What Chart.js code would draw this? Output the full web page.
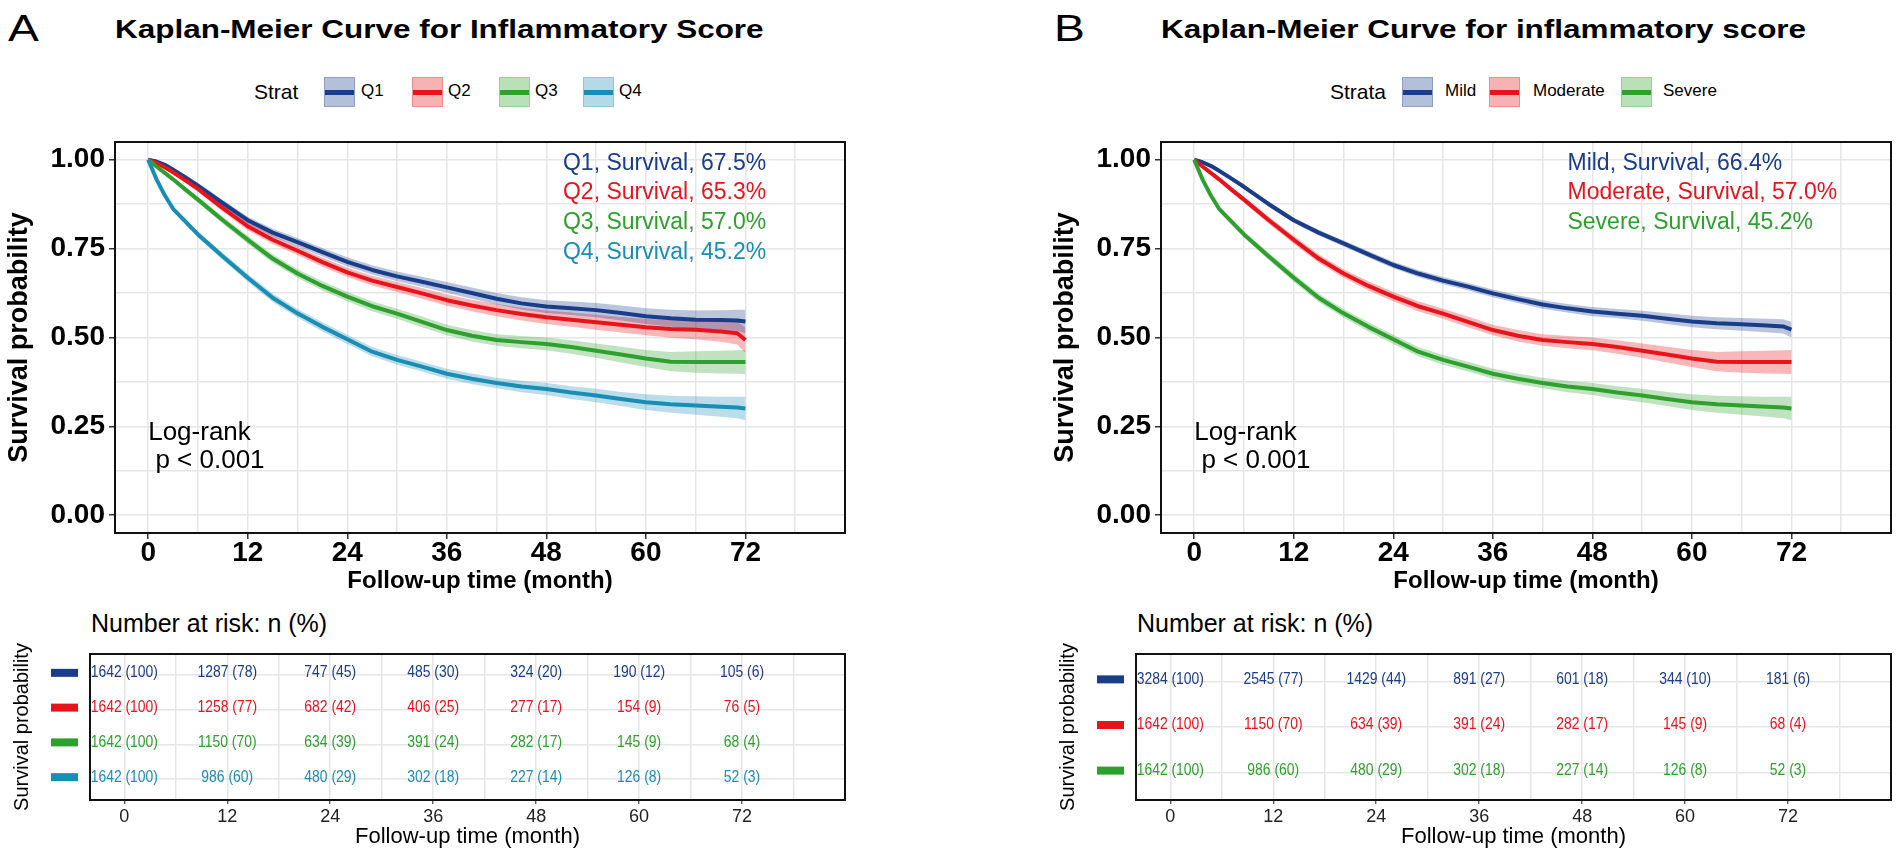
<!DOCTYPE html>
<html><head><meta charset="utf-8">
<script src="https://cdn.jsdelivr.net/npm/chart.js@4.4.0/dist/chart.umd.min.js"></script>
<style>
html,body{margin:0;padding:0;background:#fff;width:1900px;height:857px;overflow:hidden;font-family:"Liberation Sans",Arial,Helvetica,sans-serif;}
#root{position:relative;width:1900px;height:857px;}
.abs{position:absolute;white-space:nowrap;line-height:1;color:#000;}
canvas{position:absolute;}
</style></head><body>
<div id="root"></div>
<script>
// ---------------- DATA ----------------
const timeMonths = [0,1,2,3,4.5,6,9,12,15,18,21,24,27,30,33,36,39,42,45,48,51,54,57,60,63,66,69,71,72];

// Panel A: survival estimates
const survQ1 = [1.000,0.995,0.986,0.972,0.950,0.927,0.878,0.830,0.795,0.768,0.740,0.713,0.690,0.672,0.657,0.641,0.625,0.609,0.596,0.587,0.582,0.577,0.569,0.560,0.554,0.550,0.549,0.548,0.545];
const survQ2 = [1.000,0.991,0.979,0.965,0.942,0.918,0.864,0.813,0.775,0.744,0.712,0.683,0.660,0.642,0.624,0.605,0.590,0.577,0.566,0.557,0.550,0.543,0.536,0.529,0.524,0.522,0.517,0.512,0.493];
const survQ3 = [1.000,0.981,0.963,0.945,0.916,0.888,0.830,0.775,0.722,0.680,0.645,0.615,0.588,0.567,0.544,0.521,0.505,0.493,0.487,0.482,0.473,0.463,0.452,0.441,0.432,0.431,0.431,0.431,0.431];
const survQ4 = [1.000,0.945,0.900,0.862,0.826,0.790,0.728,0.668,0.612,0.568,0.530,0.495,0.460,0.437,0.418,0.398,0.384,0.372,0.362,0.355,0.345,0.337,0.327,0.318,0.312,0.309,0.305,0.303,0.300];
// half-width of the confidence bands
const ciQ1 = [0,0.004,0.005,0.006,0.007,0.008,0.009,0.010,0.011,0.012,0.012,0.013,0.013,0.014,0.014,0.015,0.016,0.016,0.017,0.018,0.019,0.020,0.021,0.022,0.024,0.026,0.028,0.030,0.033];
const ciQ2 = [0,0.004,0.005,0.006,0.007,0.008,0.010,0.011,0.012,0.012,0.013,0.013,0.014,0.014,0.015,0.016,0.016,0.017,0.018,0.019,0.020,0.021,0.022,0.023,0.025,0.027,0.029,0.032,0.036];
const ciQ3 = [0,0.004,0.005,0.006,0.007,0.008,0.010,0.011,0.012,0.012,0.013,0.013,0.014,0.014,0.015,0.015,0.016,0.016,0.017,0.018,0.019,0.020,0.022,0.024,0.027,0.030,0.032,0.033,0.034];
const ciQ4 = [0,0.005,0.006,0.007,0.008,0.009,0.010,0.011,0.012,0.012,0.013,0.013,0.013,0.014,0.014,0.014,0.015,0.015,0.016,0.017,0.018,0.019,0.020,0.022,0.024,0.026,0.028,0.030,0.033];

// Panel B
const survMild     = [1.000,0.993,0.983,0.969,0.947,0.924,0.875,0.830,0.795,0.765,0.734,0.704,0.680,0.660,0.643,0.624,0.608,0.593,0.582,0.573,0.567,0.561,0.553,0.545,0.540,0.537,0.534,0.531,0.522];
const survModerate = [1.000,0.981,0.963,0.945,0.916,0.888,0.830,0.775,0.722,0.680,0.645,0.615,0.588,0.567,0.544,0.521,0.505,0.493,0.487,0.482,0.473,0.463,0.452,0.441,0.432,0.431,0.431,0.431,0.431];
const survSevere   = [1.000,0.945,0.900,0.862,0.826,0.790,0.728,0.668,0.612,0.568,0.530,0.495,0.460,0.437,0.418,0.398,0.384,0.372,0.362,0.355,0.345,0.337,0.327,0.318,0.312,0.309,0.305,0.303,0.300];
const ciMild     = [0,0.003,0.003,0.004,0.005,0.006,0.007,0.007,0.008,0.008,0.009,0.009,0.010,0.010,0.010,0.011,0.011,0.012,0.012,0.013,0.013,0.014,0.015,0.016,0.017,0.018,0.019,0.020,0.022];
const ciModerate = [0,0.004,0.005,0.006,0.007,0.008,0.010,0.011,0.012,0.012,0.013,0.013,0.014,0.014,0.015,0.015,0.016,0.016,0.017,0.018,0.019,0.020,0.022,0.024,0.027,0.030,0.032,0.033,0.034];
const ciSevere   = [0,0.005,0.006,0.007,0.008,0.009,0.010,0.011,0.012,0.012,0.013,0.013,0.013,0.014,0.014,0.014,0.015,0.015,0.016,0.017,0.018,0.019,0.020,0.022,0.024,0.026,0.028,0.030,0.033];

// Survival text labels
const finalA = ['67.5%','65.3%','57.0%','45.2%'];
const finalB = ['66.4%','57.0%','45.2%'];

// Number at risk table
const riskTimes = [0,12,24,36,48,60,72];
const riskQ1N = [1642,1287,747,485,324,190,105];   const riskQ1P = [100,78,45,30,20,12,6];
const riskQ2N = [1642,1258,682,406,277,154,76];    const riskQ2P = [100,77,42,25,17,9,5];
const riskQ3N = [1642,1150,634,391,282,145,68];    const riskQ3P = [100,70,39,24,17,9,4];
const riskQ4N = [1642,986,480,302,227,126,52];     const riskQ4P = [100,60,29,18,14,8,3];
const riskMildN = [3284,2545,1429,891,601,344,181]; const riskMildP = [100,77,44,27,18,10,6];
const riskModN  = [1642,1150,634,391,282,145,68];   const riskModP  = [100,70,39,24,17,9,4];
const riskSevN  = [1642,986,480,302,227,126,52];    const riskSevP  = [100,60,29,18,14,8,3];

// Axis ticks
const xTickLabels = [0,12,24,36,48,60,72];
const xGrid = [0,6,12,18,24,30,36,42,48,54,60,66,72,78,84];
const yTickLabels = [0,0.25,0.5,0.75,1];
const yGrid = [0,0.125,0.25,0.375,0.5,0.625,0.75,0.875,1];

// ---------------- STYLE ----------------
const FONT = '"Liberation Sans", Arial, Helvetica, sans-serif';
const NAVY = '#1a3d8a', RED = '#e8141c', GREEN = '#2ea02e', TEAL = '#1a8db5';
Chart.defaults.font.family = FONT;
Chart.defaults.animation = false;
const GRIDC = '#e6e6e6';

function rgba(hex, a){const h=hex.replace('#','');return `rgba(${parseInt(h.slice(0,2),16)},${parseInt(h.slice(2,4),16)},${parseInt(h.slice(4,6),16)},${a})`;}
const root = document.getElementById('root');
function addDiv(text, left, top, css){const d=document.createElement('div');d.className='abs';d.textContent=text;d.style.left=left+'px';d.style.top=top+'px';Object.assign(d.style, css||{});root.appendChild(d);return d;}
function addBox(left, top, w, h, css){const d=document.createElement('div');d.style.position='absolute';d.style.left=left+'px';d.style.top=top+'px';d.style.width=w+'px';d.style.height=h+'px';Object.assign(d.style, css||{});root.appendChild(d);return d;}
function addCanvas(left, top, w, h){const c=document.createElement('canvas');c.width=w;c.height=h;c.style.left=left+'px';c.style.top=top+'px';c.style.width=w+'px';c.style.height=h+'px';root.appendChild(c);return c;}
const near = (arr, v) => arr.some(a => Math.abs(a - v) < 1e-6);

const panels = [
  { left:0, padRight:15, letter:'A', title:'Kaplan-Meier Curve for Inflammatory Score', legendTitle:'Strat', legendTitleX:254,
    boxX:[324,412,499,583], labelX:[361,448,535,619], annotX:50,
    groups:[
      {name:'Q1', color:NAVY, surv:survQ1, ci:ciQ1, n:riskQ1N, p:riskQ1P, fin:finalA[0]},
      {name:'Q2', color:RED,  surv:survQ2, ci:ciQ2, n:riskQ2N, p:riskQ2P, fin:finalA[1]},
      {name:'Q3', color:GREEN,surv:survQ3, ci:ciQ3, n:riskQ3N, p:riskQ3P, fin:finalA[2]},
      {name:'Q4', color:TEAL, surv:survQ4, ci:ciQ4, n:riskQ4N, p:riskQ4P, fin:finalA[3]}
    ]},
  { left:1046, padRight:8, letter:'B', title:'Kaplan-Meier Curve for inflammatory score', legendTitle:'Strata', legendTitleX:284,
    boxX:[356,443,575], labelX:[399,487,617], annotX:45,
    groups:[
      {name:'Mild',     color:NAVY, surv:survMild,     ci:ciMild,     n:riskMildN, p:riskMildP, fin:finalB[0]},
      {name:'Moderate', color:RED,  surv:survModerate, ci:ciModerate, n:riskModN,  p:riskModP,  fin:finalB[1]},
      {name:'Severe',   color:GREEN,surv:survSevere,   ci:ciSevere,   n:riskSevN,  p:riskSevP,  fin:finalB[2]}
    ]}
];

const framePlugin = {id:'frame', afterDraw(chart){const {ctx, chartArea:a}=chart; ctx.save(); ctx.strokeStyle='#111'; ctx.lineWidth=2; ctx.strokeRect(a.left, a.top, a.right-a.left, a.bottom-a.top); ctx.restore();}};

function annotPlugin(p){
  return {id:'annot', afterDraw(chart){
    const ctx=chart.ctx, xs=chart.scales.x, ys=chart.scales.y;
    ctx.save();
    ctx.textBaseline='alphabetic'; ctx.textAlign='left';
    ctx.font = `23px ${FONT}`;
    const x0 = xs.getPixelForValue(p.annotX), y0 = ys.getPixelForValue(1) + 10;
    p.groups.forEach((g,i)=>{ ctx.fillStyle=g.color; ctx.fillText(`${g.name}, Survival, ${g.fin}`, x0, y0 + i*29.6); });
    ctx.fillStyle='#000'; ctx.font = `26px ${FONT}`;
    const lx = xs.getPixelForValue(0), ly = ys.getPixelForValue(0.25);
    ctx.fillText('Log-rank', lx, ly + 14);
    ctx.fillText(' p < 0.001', lx, ly + 42);
    ctx.restore();
  }};
}

function tablePlugin(p){
  return {id:'risktext', afterDatasetsDraw(chart){
    const ctx=chart.ctx; ctx.save();
    ctx.font = `16px ${FONT}`; ctx.textAlign='center'; ctx.textBaseline='middle';
    p.groups.forEach((g,r)=>{
      const meta = chart.getDatasetMeta(r);
      ctx.fillStyle = g.color;
      meta.data.forEach((pt,k)=>{
        ctx.save(); ctx.translate(pt.x, pt.y - 2); ctx.scale(0.87, 1);
        ctx.fillText(`${g.n[k]} (${g.p[k]})`, 0, 0);
        ctx.restore();
      });
      const y = chart.scales.y.getPixelForValue(r+1);
      ctx.fillRect(51, y-6, 27, 8);
    });
    ctx.restore();
  }};
}

panels.forEach(p => {
  const L = p.left;
  // headers
  addDiv(p.letter, L+8, 10.4, {fontSize:'37px', transform:'scaleX(1.25)', transformOrigin:'left top'});
  addDiv(p.title, L+115, 15.6, {fontSize:'26px', fontWeight:'bold', transform:'scaleX(1.21)', transformOrigin:'left top'});
  addDiv(p.legendTitle, L+p.legendTitleX, 80.7, {fontSize:'21px'});
  p.groups.forEach((g,i)=>{
    addBox(L+p.boxX[i], 77, 31, 30, {background:rgba(g.color,0.33), boxSizing:'border-box', border:'1px solid '+rgba(g.color,0.25)});
    addBox(L+p.boxX[i]+1, 89.5, 29, 5, {background:g.color});
    addDiv(g.name, L+p.labelX[i], 82.2, {fontSize:'17px'});
  });
  addDiv('Number at risk: n (%)', L+91, 610.8, {fontSize:'25px'});

  // ---------- KM plot ----------
  const W = 115 + 730 + p.padRight;
  const cv = addCanvas(L, 100, W, 496);
  const datasets = [];
  p.groups.forEach((g,i)=>{
    datasets.push({data: timeMonths.map((t,k)=>({x:t, y:g.surv[k]+g.ci[k]})), borderWidth:0, pointRadius:0, fill:'+1', backgroundColor:rgba(g.color,0.3), order:10+i});
    datasets.push({data: timeMonths.map((t,k)=>({x:t, y:g.surv[k]-g.ci[k]})), borderWidth:0, pointRadius:0, fill:false, order:10+i});
  });
  p.groups.forEach((g,i)=>{
    datasets.push({data: timeMonths.map((t,k)=>({x:t, y:g.surv[k]})), borderColor:g.color, borderWidth:4, pointRadius:0, fill:false, order:5-i, borderCapStyle:'butt', borderJoinStyle:'round'});
  });
  new Chart(cv, {
    type:'line',
    data:{datasets},
    options:{
      responsive:false, animation:false,
      layout:{padding:{top:42, right:p.padRight, bottom:0, left:0}},
      plugins:{legend:{display:false}, tooltip:{enabled:false}},
      elements:{line:{tension:0}, point:{radius:0}},
      scales:{
        x:{type:'linear', min:-4, max:84,
          afterBuildTicks: s => { s.ticks = xGrid.map(v=>({value:v})); },
          ticks:{callback: v => near(xTickLabels, v) ? String(v) : '', font:{size:28, weight:'bold'}, color:'#000', padding:-3, maxRotation:0, autoSkip:false},
          grid:{color:GRIDC, lineWidth:1.5, tickLength:6, tickWidth:1.5, tickColor: c => near(xTickLabels, c.tick.value) ? '#333' : 'rgba(0,0,0,0)'},
          border:{display:false},
          title:{display:true, text:'Follow-up time (month)', font:{size:24, weight:'bold'}, color:'#000', padding:{top:0, bottom:0}},
          afterFit: s => { s.height = 63; }
        },
        y:{type:'linear', min:-0.05, max:1.05,
          afterBuildTicks: s => { s.ticks = yGrid.map(v=>({value:v})); },
          ticks:{callback: v => near(yTickLabels, v) ? v.toFixed(2) : '', font:{size:28, weight:'bold'}, color:'#000', padding:4, autoSkip:false},
          grid:{color:GRIDC, lineWidth:1.5, tickLength:6, tickWidth:1.5, tickColor: c => near(yTickLabels, c.tick.value) ? '#333' : 'rgba(0,0,0,0)'},
          border:{display:false},
          title:{display:true, text:'Survival probability', font:{size:27, weight:'bold'}, color:'#000', padding:{top:3, bottom:0}},
          afterFit: s => { s.width = 115; }
        }
      }
    },
    plugins:[framePlugin, annotPlugin(p)]
  });

  // ---------- risk table ----------
  const nRows = p.groups.length;
  const TW = 90 + 755 + p.padRight;
  const tc = addCanvas(L, 600, TW, 250);
  const rows = p.groups.map((g,r)=>r+1);
  new Chart(tc, {
    type:'scatter',
    data:{datasets: p.groups.map((g,r)=>({data: riskTimes.map(t=>({x:t, y:r+1})), pointRadius:0, showLine:false}))},
    options:{
      responsive:false, animation:false,
      layout:{padding:{top:54, right:p.padRight, bottom:0, left:0}},
      plugins:{legend:{display:false}, tooltip:{enabled:false}},
      scales:{
        x:{type:'linear', min:-4, max:84,
          afterBuildTicks: s => { s.ticks = xGrid.map(v=>({value:v})); },
          ticks:{callback: v => near(riskTimes, v) ? String(v) : '', font:{size:18}, color:'#222', padding:2, maxRotation:0, autoSkip:false},
          grid:{color:GRIDC, lineWidth:1.5, tickLength:4, tickWidth:1.2, tickColor: c => near(riskTimes, c.tick.value) ? '#444' : 'rgba(0,0,0,0)'},
          border:{display:false},
          title:{display:true, text:'Follow-up time (month)', font:{size:22}, color:'#000', padding:{top:0, bottom:0}},
          afterFit: s => { s.height = 50; }
        },
        y:{type:'linear', reverse:true, min:0.4, max:nRows+0.6,
          afterBuildTicks: s => { s.ticks = rows.map(v=>({value:v})); },
          ticks:{display:false},
          grid:{color:GRIDC, lineWidth:1.5, drawTicks:false},
          border:{display:false},
          title:{display:true, text:'Survival probability', font:{size:20}, color:'#000', padding:{top:10, bottom:0}},
          afterFit: s => { s.width = 90; }
        }
      }
    },
    plugins:[framePlugin, tablePlugin(p)]
  });
});
</script>
</body></html>
